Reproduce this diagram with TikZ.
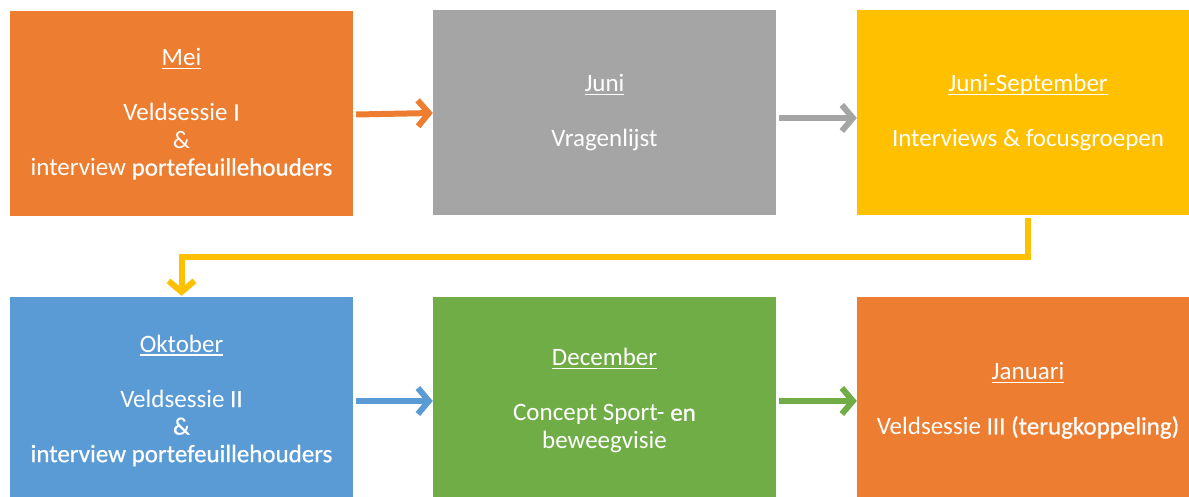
\documentclass[tikz,border=0pt]{standalone}
\usepackage{fontspec}
\setmainfont{Carlito}
\newfontfamily\heavier[FakeBold=0.6]{Carlito}
\usetikzlibrary{arrows.meta}
\definecolor{cOrange}{HTML}{ED7D31}
\definecolor{cGrey}{HTML}{A5A5A5}
\definecolor{cYellow}{HTML}{FFC000}
\definecolor{cBlue}{HTML}{5B9BD5}
\definecolor{cGreen}{HTML}{70AD47}
\newcommand{\uln}[1]{\setbox0\hbox{#1}\rlap{\rule[-3.5pt]{\wd0}{1.2pt}}\box0}
\newcommand{\hv}[1]{{\heavier #1}}
\begin{document}
\begin{tikzpicture}[x=1pt,y=1pt,
  box/.style={fill=#1, draw=none, minimum width=343pt, minimum height=205pt,
    inner sep=0pt, text=white, align=center,
    font=\fontsize{25}{27.5}\selectfont},
  conn/.style={draw=#1, line width=6pt, -{Straight Barb[length=11pt,width=26pt]}}]
\useasboundingbox (0,0) rectangle (1189,-497);
\begin{scope}
\clip (0,0) rectangle (1189,-497);
\node[box=cOrange] (mei) at (181.5,-114)
  {\uln{Mei}\\[27.5pt]Veldsessie \hv{I}\\\&\\interview \hv{portefeuillehouders}};
\node[box=cGrey] (juni) at (604.5,-112.5)
  {\uln{Juni}\\[27.5pt]Vragenlijst};
\node[box=cYellow, minimum width=342pt] (junisep) at (1028,-112.5)
  {\uln{Juni-September}\\[27.5pt]Interviews \& focusgroepen};
\node[box=cBlue, minimum height=207pt] (okt) at (181.5,-400.5)
  {\uln{Oktober}\\[27.5pt]Veldsessie \hv{II}\\\hv{\&}\\\hv{interview portefeuillehouders}};
\node[box=cGreen, minimum height=207pt] (dec) at (604.5,-400.5)
  {\uln{December}\\[27.5pt]Concept Sport- \hv{en}\\beweegvisie};
\node[box=cOrange, minimum width=342pt, minimum height=207pt] (jan) at (1028,-400.5)
  {\uln{Januari}\\[27.5pt]Veldsessie \hv{III (terugkoppeling)}};
\end{scope}
\draw[conn=cOrange] ([xshift=3pt,yshift=-0.5pt]mei.east) -- ([yshift=-0.5pt]juni.west);
\draw[conn=cGrey] ([xshift=3pt,yshift=-5.5pt]juni.east) -- ([yshift=-5.5pt]junisep.west);
\draw[conn=cYellow] ([yshift=-3pt]junisep.south) -- ++(0,-39) coordinate (bend) -| ([yshift=1pt]okt.north);
\draw[conn=cBlue] ([xshift=3pt,yshift=-0.5pt]okt.east) -- ([yshift=-0.5pt]dec.west);
\draw[conn=cGreen] ([xshift=3pt,yshift=-0.5pt]dec.east) -- ([yshift=-0.5pt]jan.west);
\end{tikzpicture}
\end{document}
